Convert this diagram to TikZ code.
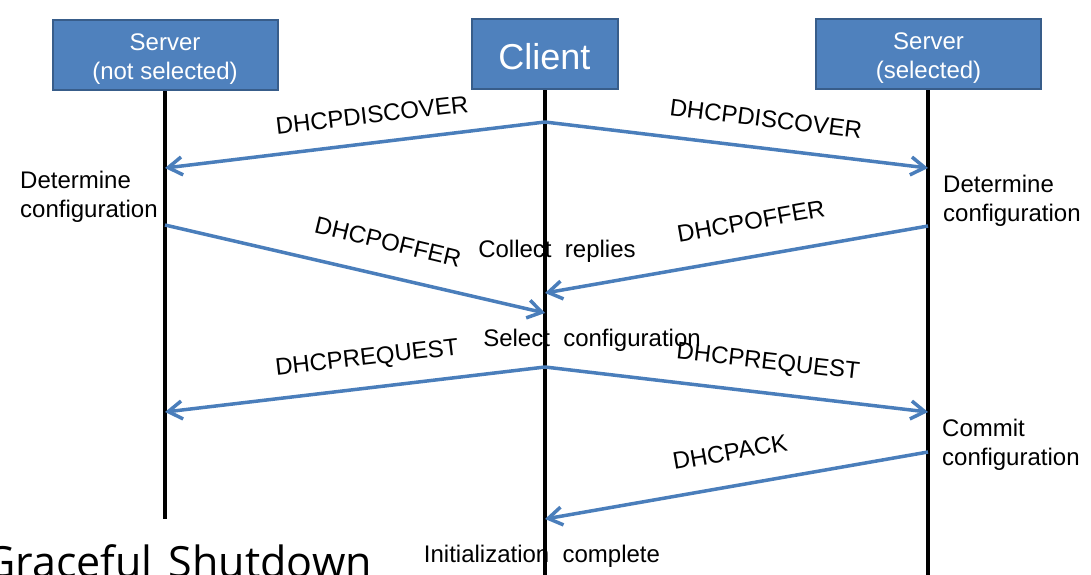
\documentclass[tikz,border=0pt]{standalone}
\usepackage{fontspec}
\setmainfont{Liberation Sans}
\newfontfamily\shutfont{Open Sans}
\usetikzlibrary{arrows.meta}
\definecolor{boxblue}{HTML}{4F81BD}
\definecolor{boxedge}{HTML}{385D8A}
\definecolor{msgblue}{HTML}{4A7EBB}
\begin{document}
\begin{tikzpicture}[x=1pt,y=-1pt,
  actor/.style={draw=boxedge,line width=2pt,fill=boxblue,text=white,inner sep=0pt,
    minimum height=70pt,align=center,font=\fontsize{24}{29}\selectfont},
  life/.style={line width=3.5pt},
  msg/.style={draw=msgblue,line width=3.5pt,-{Straight Barb[length=14pt,width=18pt]}},
  lbl/.style={inner sep=0pt,font=\fontsize{24}{29}\selectfont},
  note/.style={inner sep=0pt,align=left,anchor=west,font=\fontsize{24}{29}\selectfont}]
\clip (0,0) rectangle (1091,574);
\fill[white] (0,0) rectangle (1091,574);
% lifelines
\coordinate (endA) at (165,519);
\coordinate (endC) at (545,576);
\coordinate (endB) at (928,576);
\draw[life] (165,89) -- (endA);
\draw[life] (545,89) -- (endC);
\draw[life] (928,89) -- (endB);
% actors
\node[actor,minimum width=225pt] (srvA) at (165,54.5) {\rule{0pt}{25pt}Server\\(not selected)};
\node[actor,minimum width=146pt,font=\fontsize{36}{40}\selectfont] (cli) at (544.5,54) {\rule{0pt}{32pt}Client};
\node[actor,minimum width=225pt] (srvB) at (928.5,54) {\rule{0pt}{25pt}Server\\(selected)};
% message points
\coordinate (c1) at (545,122);
\coordinate (a1) at (165,168);
\coordinate (b1) at (928,168);
\coordinate (a2) at (165,225);
\coordinate (c2) at (545,313);
\coordinate (b2) at (928,226);
\coordinate (c3) at (545,293);
\coordinate (c4) at (545,367);
\coordinate (a3) at (165,412);
\coordinate (b3) at (928,412);
\coordinate (b4) at (928,452);
\coordinate (c5) at (545,519);
% messages
\draw[msg] (c1) -- (a1);
\draw[msg] (c1) -- (b1);
\draw[msg] (a2) -- (c2);
\draw[msg] (b2) -- (c3);
\draw[msg] (c4) -- (a3);
\draw[msg] (c4) -- (b3);
\draw[msg] (b4) -- (c5);
\node[lbl,rotate=6.6] (discA) at (372,115) {DHCPDISCOVER};
\node[lbl,rotate=-7] (discB) at (766,119) {DHCPDISCOVER};
\node[lbl,rotate=-13.5] (offA) at (388,242) {DHCPOFFER};
\node[lbl,rotate=10.1] (offB) at (751,221) {DHCPOFFER};
\node[lbl,rotate=6.5] (reqA) at (367,359) {DHCPREQUEST};
\node[lbl,rotate=-6.4] (reqB) at (768,363) {DHCPREQUEST};
\node[lbl,rotate=9.8] (ack) at (730,452) {DHCPACK};
% states
\node[note] (detA) at (20,197) {Determine\\configuration};
\node[note] (detB) at (943,201) {Determine\\configuration};
\node[lbl] (coll) at (557,251) {Collect\ \ replies};
\node[lbl] (sel) at (592,340) {Select\ \ configuration};
\node[note] (comm) at (942,445) {Commit\\configuration};
\node[lbl] (init) at (542,556) {Initialization\ \ complete};
\node[anchor=base east,inner sep=0pt,font=\shutfont\fontsize{43}{48}\selectfont] (shut) at (372,577) {Graceful\ \hspace{5pt}Shutdown};
\end{tikzpicture}
\end{document}
